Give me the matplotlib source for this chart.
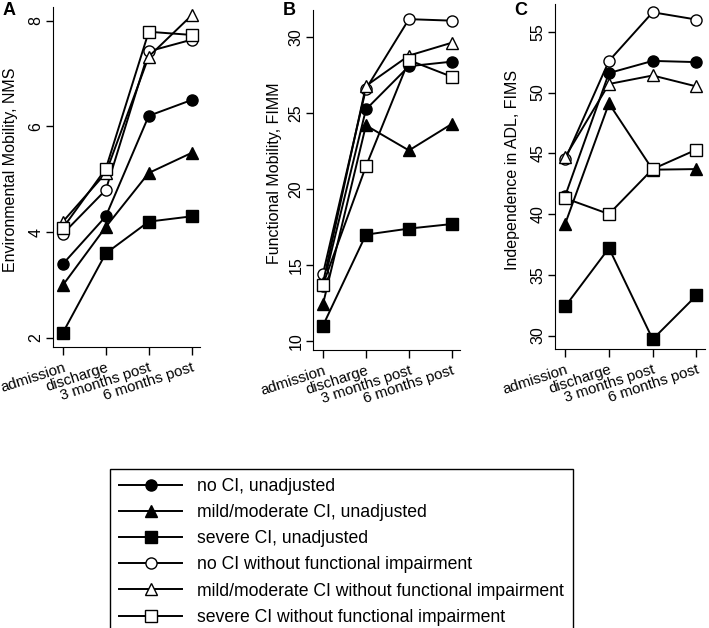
import numpy as np
import matplotlib
matplotlib.use("Agg")
import matplotlib.pyplot as plt

plt.rcParams['font.family'] = ['Liberation Sans', 'DejaVu Sans']

# time points
timepoints = ["admission", "discharge", "3 months post", "6 months post"]

series_labels = [
  "no CI, unadjusted",
  "mild/moderate CI, unadjusted",
  "severe CI, unadjusted",
  "no CI without functional impairment",
  "mild/moderate CI without functional impairment",
  "severe CI without functional impairment",
]

# panel A: Environmental Mobility, NMS
nms_no_ci = [3.4, 4.3, 6.2, 6.5]
nms_mild_ci = [3.0, 4.1, 5.12, 5.5]
nms_severe_ci = [2.1, 3.6, 4.2, 4.3]
nms_no_ci_nofi = [3.97, 4.8, 7.42, 7.64]
nms_mild_ci_nofi = [4.2, 5.12, 7.32, 8.1]
nms_severe_ci_nofi = [4.08, 5.2, 7.79, 7.73]

# panel B: Functional Mobility, FIMM
fimm_no_ci = [13.6, 25.25, 28.1, 28.4]
fimm_mild_ci = [12.4, 24.2, 22.55, 24.3]
fimm_severe_ci = [11.0, 17.0, 17.4, 17.7]
fimm_no_ci_nofi = [14.4, 26.6, 31.2, 31.1]
fimm_mild_ci_nofi = [13.8, 26.8, 28.8, 29.65]
fimm_severe_ci_nofi = [13.7, 21.5, 28.5, 27.4]

# panel C: Independence in ADL, FIMS
fims_no_ci = [41.5, 51.6, 52.6, 52.5]
fims_mild_ci = [39.2, 49.1, 43.65, 43.7]
fims_severe_ci = [32.4, 37.2, 29.7, 33.3]
fims_no_ci_nofi = [44.5, 52.6, 56.6, 56.0]
fims_mild_ci_nofi = [44.7, 50.7, 51.4, 50.5]
fims_severe_ci_nofi = [41.3, 40.0, 43.7, 45.3]

markers = ['o', '^', 's', 'o', '^', 's']
faces = ['black', 'black', 'black', 'white', 'white', 'white']

panels = [
  dict(data=[nms_no_ci, nms_mild_ci, nms_severe_ci, nms_no_ci_nofi, nms_mild_ci_nofi, nms_severe_ci_nofi],
       ylabel="Environmental Mobility, NMS", letter="A", ylim=(1.83, 8.26), yticks=[2, 4, 6, 8],
       rect=[0.0748, 0.4475, 0.207, 0.5415], labx=-0.238, letx=0.004),
  dict(data=[fimm_no_ci, fimm_mild_ci, fimm_severe_ci, fimm_no_ci_nofi, fimm_mild_ci_nofi, fimm_severe_ci_nofi],
       ylabel="Functional Mobility, FIMM", letter="B", ylim=(9.4, 31.8), yticks=[10, 15, 20, 25, 30],
       rect=[0.4415, 0.4427, 0.2075, 0.5413], labx=-0.21, letx=0.399),
  dict(data=[fims_no_ci, fims_mild_ci, fims_severe_ci, fims_no_ci_nofi, fims_mild_ci_nofi, fims_severe_ci_nofi],
       ylabel="Independence in ADL, FIMS", letter="C", ylim=(28.9, 57.3), yticks=[30, 35, 40, 45, 50, 55],
       rect=[0.783, 0.4443, 0.211, 0.5497], labx=-0.233, letx=0.726),
]

fig = plt.figure(figsize=(7.09, 6.28), dpi=100)
x = np.arange(len(timepoints))

handles = None
for p in panels:
  ax = fig.add_axes(p['rect'])
  hs = []
  for vals, m, fc in zip(p['data'], markers, faces):
    h, = ax.plot(x, vals, color='black', lw=1.4, marker=m, markersize=8,
                 markerfacecolor=fc, markeredgecolor='black', markeredgewidth=1.0)
    hs.append(h)
  if handles is None:
    handles = hs
  ax.set_xlim(-0.23, 3.19)
  ax.set_ylim(*p['ylim'])
  ax.set_yticks(p['yticks'])
  ax.set_xticks(x)
  ax.set_xticklabels(timepoints, rotation=18, ha='right', rotation_mode='anchor', fontsize=10.8)
  for lab in ax.get_yticklabels():
    lab.set_rotation(90)
    lab.set_va('center')
  ax.tick_params(axis='y', labelsize=11.5, length=5, width=1, pad=2)
  ax.tick_params(axis='x', length=6, width=1)
  ax.spines['top'].set_visible(False)
  ax.spines['right'].set_visible(False)
  ax.set_ylabel(p['ylabel'], fontsize=11.5)
  ax.yaxis.set_label_coords(p['labx'], 0.52)
  fig.text(p['letx'], 0.984, p['letter'], fontsize=13, fontweight='bold', va='center', ha='left')

leg = fig.legend(handles, series_labels, loc='upper left', bbox_to_anchor=(110 / 709, 1 - 469 / 628),
                 fontsize=12.7, frameon=True, fancybox=False, edgecolor='black', framealpha=1,
                 handlelength=3.6, handletextpad=0.85, labelspacing=0.52, borderpad=0.5,
                 borderaxespad=0)
leg.get_frame().set_linewidth(1.0)

fig.savefig('out.png', dpi=100)
